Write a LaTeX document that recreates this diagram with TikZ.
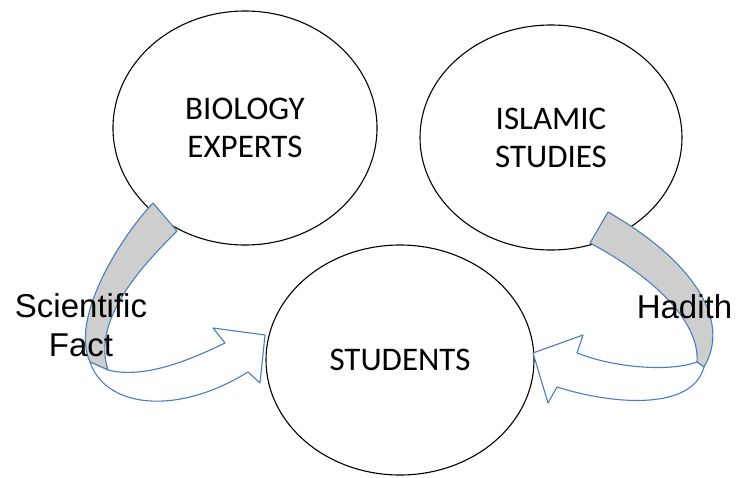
\documentclass[tikz,border=0pt]{standalone}
\usepackage{fontspec}
\setmainfont{Carlito}
\newfontfamily\arialfont{Liberation Sans}
\usetikzlibrary{shapes.geometric}
\definecolor{ribbonblue}{RGB}{74,126,187}
\definecolor{ribbongray}{RGB}{206,206,206}
\tikzset{
  bubble/.style={ellipse, draw=black, line width=1.1pt, fill=white, inner sep=0pt,
    align=center, font=\fontsize{33}{38}\selectfont},
  backband/.style={draw=ribbonblue, line width=1.1pt, fill=ribbongray, line join=round},
  frontband/.style={draw=ribbonblue, line width=1.1pt, fill=white, line join=round},
  sidelabel/.style={font=\arialfont\fontsize{33}{39}\selectfont, align=center, inner sep=0pt}
}
\begin{document}
\begin{tikzpicture}[x=1pt,y=-1pt]
\useasboundingbox (0,0) rectangle (736,477);
% bubbles
\node[bubble, minimum width=264pt, minimum height=234pt] (bio) at (245,128) {BIOLOGY\\EXPERTS};
\node[bubble, minimum width=262pt, minimum height=225pt] (isl) at (551,137.5) {ISLAMIC\\STUDIES};
\node[bubble, minimum width=268pt, minimum height=230pt] (stu) at (400,360) {STUDENTS};
% left ribbon (Biology -> Students)
\coordinate (lo1) at (153,203);
\coordinate (li1) at (177,231);
\coordinate (lo2) at (90,362);
\coordinate (li2) at (108,370);
\draw[backband] (lo1) .. controls (118,240) and (70,320) .. (lo2) -- (li2)
   .. controls (92,320) and (140,268) .. (li1) -- cycle;
\draw[frontband] (lo2) .. controls (105,407) and (175,417) .. (248,372)
   -- (260,383) -- (265,335) -- (213,328) -- (225,343)
   .. controls (180,365) and (140,378) .. (li2) -- cycle;
% right ribbon (Islamic -> Students)
\coordinate (ro1) at (608,212);
\coordinate (ri1) at (590,243);
\coordinate (ro2) at (704,367);
\coordinate (ri2) at (697,362);
\draw[backband] (ro1) .. controls (692,260) and (732,320) .. (ro2) -- (ri2)
   .. controls (700,320) and (650,275) .. (ri1) -- cycle;
\draw[frontband] (ri2) .. controls (670,372) and (615,368) .. (577,353)
   -- (583,335) -- (533,353) -- (548,403) -- (557,387)
   .. controls (610,404) and (692,412) .. (ro2) -- cycle;
% labels
\node[sidelabel, anchor=north] (sci) at (81,293) {Scientific\\Fact};
\node[sidelabel, anchor=base] (had) at (684.5,318) {Hadith};
\end{tikzpicture}
\end{document}
